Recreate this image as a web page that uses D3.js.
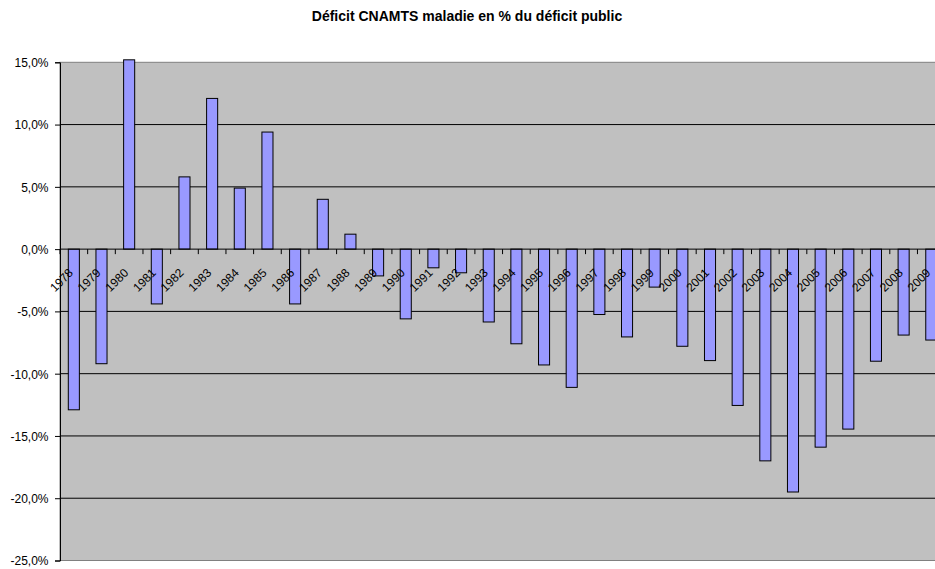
<!DOCTYPE html>
<html>
<head>
<meta charset="utf-8">
<script src="https://cdn.jsdelivr.net/npm/d3@7/dist/d3.min.js"></script>
<style>
  html, body { margin: 0; padding: 0; background: #fff; }
  svg { display: block; font-family: "Liberation Sans", Arial, sans-serif; }
</style>
</head>
<body>
<script>
// Années (catégories)
const years = [
  "1978","1979","1980","1981","1982","1983","1984","1985","1986","1987",
  "1988","1989","1990","1991","1992","1993","1994","1995","1996","1997",
  "1998","1999","2000","2001","2002","2003","2004","2005","2006","2007",
  "2008","2009"
];
// Déficit CNAMTS maladie en % du déficit public
const values = [
  -12.9, -9.2, 15.2, -4.4, 5.8, 12.1, 4.9, 9.4, -4.4, 4.0,
  1.2, -2.15, -5.6, -1.5, -1.9, -5.85, -7.6, -9.3, -11.1, -5.25,
  -7.05, -3.05, -7.8, -8.95, -12.55, -17.0, -19.5, -15.9, -14.45, -9.0,
  -6.9, -7.3
];
// Graduations de l'axe des valeurs
const yTicks = [15, 10, 5, 0, -5, -10, -15, -20, -25];
const title = "Déficit CNAMTS maladie en % du déficit public";

const W = 935, H = 569;
const plot = { left: 60, top: 62.3, bottom: 560.5, step: 27.66 };
plot.right = plot.left + plot.step * years.length;

const svg = d3.select("body").append("svg")
  .attr("width", W).attr("height", H);

const x = d3.scaleBand()
  .domain(years)
  .range([plot.left, plot.right])
  .paddingInner(0.6)
  .paddingOuter(0.3);

const y = d3.scaleLinear()
  .domain([-25, 15])
  .range([plot.bottom, plot.top]);

const fmt = v => d3.format(".1f")(v).replace(".", ",").replace("−", "-") + "%";

// Titre
svg.append("text")
  .attr("x", 467).attr("y", 21)
  .attr("text-anchor", "middle")
  .attr("font-size", 14)
  .attr("font-weight", "bold")
  .attr("fill", "#000")
  .text(title);

// Zone de traçage
svg.append("rect")
  .attr("x", plot.left).attr("y", plot.top)
  .attr("width", plot.right - plot.left)
  .attr("height", plot.bottom - plot.top)
  .attr("fill", "#C0C0C0")
  .attr("stroke", "#808080")
  .attr("stroke-width", 1);

// Quadrillage horizontal
svg.append("g").selectAll("line")
  .data(yTicks.filter(t => t !== -25 && t !== 15 && t !== 0))
  .join("line")
  .attr("x1", plot.left).attr("x2", plot.right)
  .attr("y1", d => y(d)).attr("y2", d => y(d))
  .attr("stroke", "#000")
  .attr("stroke-width", 1);

// Barres
svg.append("g").selectAll("rect")
  .data(years.map((yr, i) => ({ yr, v: values[i] })))
  .join("rect")
  .attr("x", d => x(d.yr))
  .attr("width", x.bandwidth())
  .attr("y", d => y(Math.max(0, d.v)))
  .attr("height", d => Math.abs(y(d.v) - y(0)))
  .attr("fill", "#9999FF")
  .attr("stroke", "#000")
  .attr("stroke-width", 1);

// Axe des valeurs
const yAxis = d3.axisLeft(y)
  .tickValues(yTicks)
  .tickSize(5)
  .tickFormat(fmt);
const gy = svg.append("g")
  .attr("transform", `translate(${plot.left},0)`)
  .call(yAxis);
gy.select(".domain").attr("stroke", "#000");
gy.selectAll(".tick line").attr("stroke", "#000");
gy.selectAll(".tick text")
  .attr("font-size", 12)
  .attr("font-family", "\"Liberation Sans\", Arial, sans-serif")
  .attr("fill", "#000")
  .attr("x", -11.5)
  .attr("dy", "0.36em");

// Axe des catégories (sur la ligne zéro)
const tickPos = d3.range(years.length + 1).map(i => plot.left + i * x.step());
const gx = svg.append("g");
gx.append("line")
  .attr("x1", plot.left).attr("x2", plot.right)
  .attr("y1", y(0)).attr("y2", y(0))
  .attr("stroke", "#000");
gx.selectAll("line.t")
  .data(tickPos)
  .join("line")
  .attr("class", "t")
  .attr("x1", d => d).attr("x2", d => d)
  .attr("y1", y(0)).attr("y2", y(0) + 5)
  .attr("stroke", "#000");

gx.selectAll("text")
  .data(years)
  .join("text")
  .attr("transform", d => `translate(${x(d) + x.bandwidth() / 2},${y(0) + 24.5}) rotate(-45)`)
  .attr("text-anchor", "end")
  .attr("font-size", 12)
  .attr("fill", "#000")
  .text(d => d);
</script>
</body>
</html>
